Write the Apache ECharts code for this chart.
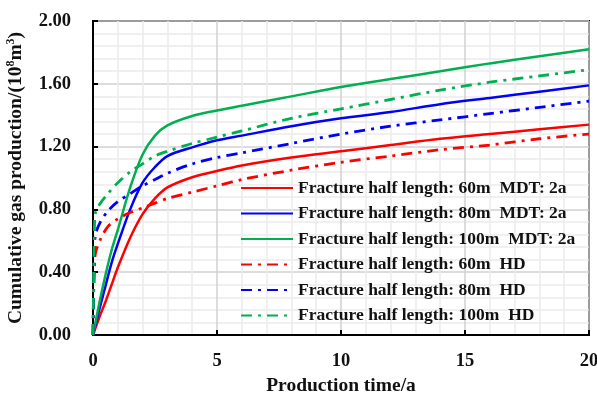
<!DOCTYPE html>
<html>
<head>
<meta charset="utf-8">
<script src="https://cdn.jsdelivr.net/npm/echarts@6/dist/echarts.min.js"></script>
<style>
  html, body { margin: 0; padding: 0; background: #fff; }
  #chart { width: 597px; height: 395px; }
</style>
</head>
<body>
<div id="chart"></div>
<script>
// Cumulative gas production (10^8 m^3) versus production time (a)
const xTicks = [0, 5, 10, 15, 20];
const yTicks = [0, 0.4, 0.8, 1.2, 1.6, 2.0];

// Solid curves: MDT 2a cases
const tMdt = [0, 0.25, 0.5, 0.75, 1, 1.5, 2, 2.5, 3, 4, 5, 6, 8, 10, 12, 14, 16, 18, 20];
const mdt60  = [0, 0.11, 0.21, 0.32, 0.43, 0.62, 0.77, 0.87, 0.94, 1.005, 1.045, 1.08, 1.13, 1.17, 1.21, 1.25, 1.28, 1.31, 1.34];
const mdt80  = [0, 0.16, 0.31, 0.46, 0.58, 0.80, 0.97, 1.07, 1.14, 1.195, 1.24, 1.27, 1.33, 1.38, 1.42, 1.47, 1.51, 1.55, 1.59];
const mdt100 = [0, 0.20, 0.38, 0.54, 0.67, 0.94, 1.15, 1.27, 1.335, 1.395, 1.43, 1.46, 1.52, 1.58, 1.63, 1.68, 1.73, 1.775, 1.82];

// Dash-dot curves: HD cases
const tHd = [0, 0.05, 0.1, 0.3, 0.6, 1, 1.5, 2, 2.5, 3, 4, 5, 6, 8, 10, 12, 14, 16, 18, 20];
const hd60  = [0, 0.40, 0.52, 0.61, 0.69, 0.74, 0.78, 0.81, 0.84, 0.87, 0.91, 0.95, 0.99, 1.05, 1.10, 1.14, 1.18, 1.21, 1.25, 1.28];
const hd80  = [0, 0.50, 0.64, 0.72, 0.79, 0.85, 0.90, 0.95, 0.99, 1.03, 1.09, 1.13, 1.16, 1.22, 1.28, 1.33, 1.37, 1.41, 1.45, 1.49];
const hd100 = [0, 0.60, 0.78, 0.84, 0.90, 0.97, 1.04, 1.09, 1.14, 1.17, 1.22, 1.26, 1.30, 1.38, 1.44, 1.50, 1.56, 1.61, 1.65, 1.69];

const names = [
  'Fracture half length: 60m  MDT: 2a',
  'Fracture half length: 80m  MDT: 2a',
  'Fracture half length: 100m  MDT: 2a',
  'Fracture half length: 60m  HD',
  'Fracture half length: 80m  HD',
  'Fracture half length: 100m  HD'
];
const colors = ['#ff0000', '#0000ff', '#00b050', '#ff0000', '#0000ff', '#00b050'];

const FONT = '"Liberation Serif", "Times New Roman", serif';
const zip = (xs, ys) => xs.map((x, i) => [x, ys[i]]);

const seriesData = [
  zip(tMdt, mdt60), zip(tMdt, mdt80), zip(tMdt, mdt100),
  zip(tHd, hd60), zip(tHd, hd80), zip(tHd, hd100)
];

const series = seriesData.map((data, i) => ({
  name: names[i],
  type: 'line',
  data: data,
  smooth: 0.3,
  showSymbol: false,
  symbol: 'none',
  color: colors[i],
  lineStyle: i < 3
    ? { width: 2.5, color: colors[i], type: 'solid' }
    : { width: 2.8, color: colors[i], type: [11, 6, 3, 6] }
}));

const chart = echarts.init(document.getElementById('chart'), null, { renderer: 'canvas' });
chart.setOption({
  animation: false,
  backgroundColor: '#ffffff',
  grid: {
    left: 93, right: 8, top: 21, bottom: 60,
    outerBoundsMode: 'none',
    containLabel: false,
    show: true, borderColor: '#000', borderWidth: 2, backgroundColor: 'transparent'
  },
  legend: {
    orient: 'vertical',
    left: 240,
    top: 179,
    itemWidth: 52,
    itemHeight: 18,
    itemGap: 7.5,
    padding: 0,
    backgroundColor: 'transparent',
    // line-only icons: hide the marker drawn on the legend line
    itemStyle: { opacity: 0, borderWidth: 0 },
    textStyle: { fontFamily: FONT, fontWeight: 'bold', fontSize: 17.5, color: '#111' },
    data: names
  },
  xAxis: {
    type: 'value',
    min: xTicks[0], max: xTicks[xTicks.length - 1], interval: 5,
    name: 'Production time/a',
    nameLocation: 'middle',
    nameGap: 41,
    nameTextStyle: { fontFamily: FONT, fontWeight: 'bold', fontSize: 19.5, color: '#111' },
    axisLine: { show: true, lineStyle: { color: '#000', width: 2 } },
    axisTick: { show: true, inside: true, length: 5, lineStyle: { color: '#000', width: 2 } },
    axisLabel: { fontFamily: FONT, fontWeight: 'bold', fontSize: 18.5, color: '#111', margin: 17 },
    splitLine: { show: true, lineStyle: { color: '#d0d0d0', width: 1.5 } },
    minorTick: { show: false, splitNumber: 5 },
    minorSplitLine: { show: true, lineStyle: { color: '#ebebeb', width: 1.5 } }
  },
  yAxis: {
    type: 'value',
    min: yTicks[0], max: yTicks[yTicks.length - 1], interval: 0.4,
    name: 'Cumulative gas production/(10{sup|8}m{sup|3})',
    nameLocation: 'middle',
    nameGap: 60,
    nameRotate: 90,
    nameTextStyle: {
      fontFamily: FONT, fontWeight: 'bold', fontSize: 19.5, color: '#111', lineHeight: 23,
      rich: { sup: { fontFamily: FONT, fontWeight: 'bold', fontSize: 12, verticalAlign: 'top', lineHeight: 14, color: '#111' } }
    },
    axisLine: { show: true, lineStyle: { color: '#000', width: 2 } },
    axisTick: { show: true, inside: true, length: 5, lineStyle: { color: '#000', width: 2 } },
    axisLabel: {
      fontFamily: FONT, fontWeight: 'bold', fontSize: 18.5, color: '#111', margin: 22,
      formatter: v => v.toFixed(2)
    },
    splitLine: { show: true, lineStyle: { color: '#d0d0d0', width: 1.5 } },
    minorTick: { show: false, splitNumber: 5 },
    minorSplitLine: { show: true, lineStyle: { color: '#ebebeb', width: 1.5 } }
  },
  series: series
});
</script>
</body>
</html>
